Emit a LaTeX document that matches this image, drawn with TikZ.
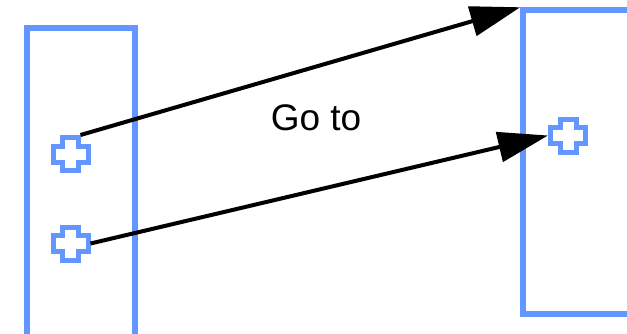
\documentclass[tikz,border=0pt]{standalone}
\usepackage{fontspec}
\setmainfont{Liberation Sans}
\usetikzlibrary{arrows.meta}
\definecolor{boxblue}{RGB}{100,150,255}

\tikzset{
  frame/.style={rectangle, draw=boxblue, line width=5.5pt, inner sep=0pt},
  port/.style={rectangle, minimum width=40pt, minimum height=38pt, inner sep=0pt, outer sep=0pt},
  plusline/.style={draw=boxblue, line width=5pt, line join=miter},
  link/.style={line width=4pt, -{Triangle[length=50pt,width=30pt]}}
}
\newcommand{\plusoutline}[1]{%
  \draw[plusline] (#1.center) ++(-17.5,-8) -- ++(9.5,0) -- ++(0,-8.5) -- ++(16,0)
    -- ++(0,8.5) -- ++(9.5,0) -- ++(0,16) -- ++(-9.5,0) -- ++(0,8.5) -- ++(-16,0)
    -- ++(0,-8.5) -- ++(-9.5,0) -- cycle;}

\begin{document}
\begin{tikzpicture}[x=1pt, y=-1pt]
    \clip (0,0) rectangle (627,333);
    % the two blocks
    \node[frame, minimum width=108pt, minimum height=340pt, anchor=north west] (src) at (24.25,25.25) {};
    \node[frame, minimum width=250pt, minimum height=304pt, anchor=north west] (dst) at (520.25,7.25) {};
    % ports
    \node[port] (c1) at (70.5,154) {};
    \node[port] (c2) at (70.5,243.5) {};
    \node[port] (c3) at (568,135.5) {};
    \plusoutline{c1}
    \plusoutline{c2}
    \plusoutline{c3}
    % links
    \draw[link] ([xshift=10pt]c1.north) -- (dst.north west);
    \draw[link] (c2.east) -- (c3.west);
    \node (label) at (316,118) {\fontsize{37}{44}\selectfont Go to};
\end{tikzpicture}
\end{document}
